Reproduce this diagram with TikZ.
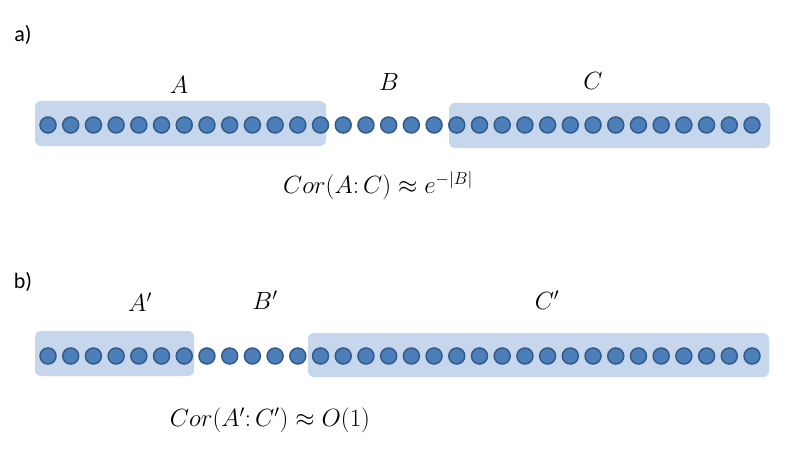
\documentclass[tikz,border=0pt]{standalone}
\usepackage{fontspec}
\newfontfamily\labelfont{Carlito}
\begin{document}
\begin{tikzpicture}[x=1pt,y=-1pt,
  dot/.style={circle,inner sep=0pt,minimum size=16pt,fill=dotfill,draw=dotedge,line width=1.5pt},
  region/.style={rectangle,rounded corners=6pt,fill=boxfill,inner sep=0pt},
  lbl/.style={inner sep=0pt,font=\fontsize{24}{28}\selectfont},
  formula/.style={inner sep=0pt,font=\fontsize{26}{30}\selectfont},
  tag/.style={inner sep=0pt,font=\labelfont\fontsize{22}{26}\selectfont}]
\definecolor{dotfill}{RGB}{76,126,186}
\definecolor{dotedge}{RGB}{52,90,136}
\definecolor{boxfill}{RGB}{198,214,237}
\useasboundingbox[fill=white] (0,0) rectangle (785,452);
% panel a
\node[tag] (ta) at (23,35) {a)};
\node[region,minimum width=291pt,minimum height=45pt] (boxA) at (180.5,123.5) {};
\node[region,minimum width=321pt,minimum height=45pt] (boxC) at (609.5,125.5) {};
\foreach \i in {0,...,31}{
  \node[dot] (a\i) at ({48+\i*22.71},125) {};
}
\node[lbl] (labA) at (179,85) {$A$};
\node[lbl] (labB) at (389,82) {$B$};
\node[lbl] (labC) at (593,81) {$C$};
\node[formula] (corA) at (378,186) {$Cor(A\colon C)\approx e^{-|B|}$};
% panel b
\node[tag] (tb) at (23,282) {b)};
\node[region,minimum width=159pt,minimum height=45pt] (boxAp) at (114.5,353.5) {};
\node[region,minimum width=461pt,minimum height=44pt] (boxCp) at (538.5,355) {};
\foreach \i in {0,...,31}{
  \node[dot] (b\i) at ({48+\i*22.71},356) {};
}
\node[lbl] (labAp) at (140,302) {$A'$};
\node[lbl] (labBp) at (265,300) {$B'$};
\node[lbl] (labCp) at (547,300) {$C'$};
\node[formula] (corB) at (270,420) {$Cor(A'\colon C')\approx O(1)$};
\end{tikzpicture}
\end{document}
